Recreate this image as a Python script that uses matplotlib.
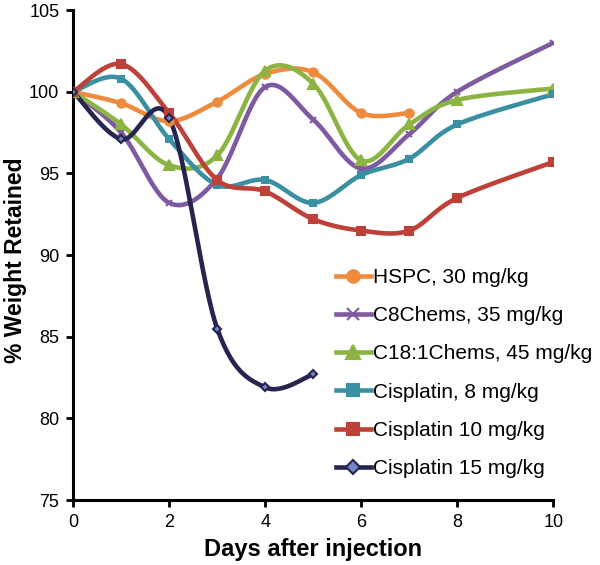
import numpy as np
import matplotlib
matplotlib.use("Agg")
import matplotlib.pyplot as plt

plt.rcParams['font.family'] = ['Liberation Sans', 'DejaVu Sans']

days = [0, 1, 2, 3, 4, 5, 6, 7, 8, 10]
hspc_days = [0, 1, 2, 3, 4, 5, 6, 7]
hspc = [100, 99.3, 98.2, 99.4, 101.1, 101.2, 98.7, 98.7]
c8 = [100, 97.5, 93.2, 94.7, 100.3, 98.3, 95.3, 97.4, 100.0, 103.0]
c18 = [100, 98.0, 95.5, 96.1, 101.3, 100.5, 95.8, 98.0, 99.5, 100.2]
cis8 = [100, 100.8, 97.1, 94.3, 94.6, 93.2, 94.9, 95.9, 98.0, 99.85]
cis10 = [100, 101.7, 98.7, 94.6, 93.9, 92.2, 91.5, 91.5, 93.5, 95.7]
cis15_days = [0, 1, 2, 3, 4, 5]
cis15 = [100, 97.1, 98.4, 85.5, 81.9, 82.7]

labels = ["HSPC, 30 mg/kg", "C8Chems, 35 mg/kg", "C18:1Chems, 45 mg/kg",
          "Cisplatin, 8 mg/kg", "Cisplatin 10 mg/kg", "Cisplatin 15 mg/kg"]
xticks = [0, 2, 4, 6, 8, 10]
yticks = [75, 80, 85, 90, 95, 100, 105]


def smooth(x, y, n=30):
    # Excel-style smoothing (Catmull-Rom Bezier through the points)
    x = np.asarray(x, float); y = np.asarray(y, float)
    P = np.column_stack([x, y])
    ext = np.vstack([P[0], P, P[-1]])
    out = []
    for i in range(len(P) - 1):
        p0, p1, p2, p3 = ext[i], ext[i + 1], ext[i + 2], ext[i + 3]
        c1 = p1 + (p2 - p0) / 6.0
        c2 = p2 - (p3 - p1) / 6.0
        t = np.linspace(0, 1, n)[:, None]
        seg = ((1 - t) ** 3) * p1 + 3 * ((1 - t) ** 2) * t * c1 + 3 * (1 - t) * t ** 2 * c2 + t ** 3 * p2
        out.append(seg if i == 0 else seg[1:])
    out = np.vstack(out)
    return out[:, 0], out[:, 1]


fig = plt.figure(figsize=(6.0, 5.65), dpi=100)
ax = fig.add_axes([0.122, 0.115, 0.80, 0.867])

series = [
    (hspc_days, hspc, '#EE8B3D', 'o', '#EE8B3D', 6),
    (days, c8, '#7E5BA0', 'x', '#7E5BA0', 5),
    (days, c18, '#8CB443', '^', '#8CB443', 6.5),
    (days, cis8, '#3B8FA2', 's', '#3B8FA2', 5),
    (days, cis10, '#BD4139', 's', '#BD4139', 5.5),
    (cis15_days, cis15, '#27244F', 'D', '#6F86C9', 4.5),
]

lw = 3.3
handles = []
for (xs, ys, col, mk, fc, ms), lab in zip(series, labels):
    sx, sy = smooth(xs, ys)
    ax.plot(sx, sy, color=col, lw=lw, solid_capstyle='round', zorder=2)
    ax.plot(xs, ys, ls='none', marker=mk, ms=ms, mfc=fc, mec=col, mew=1.5, zorder=3)
    h, = ax.plot([], [], color=col, lw=lw, marker=mk, ms=ms + 3, mfc=fc, mec=col, mew=1.5)
    handles.append(h)

ax.set_xlim(0, 10)
ax.set_ylim(75, 105)
ax.set_xticks(xticks)
ax.set_yticks(yticks)
for s in ['top', 'right']:
    ax.spines[s].set_visible(False)
for s in ['left', 'bottom']:
    ax.spines[s].set_linewidth(2.2)
    ax.spines[s].set_color('black')
ax.tick_params(direction='out', length=5, width=2, labelsize=13, pad=5)
ax.set_xlabel("Days after injection", fontsize=17, fontweight='bold', labelpad=5)
ax.set_ylabel("% Weight Retained", fontsize=16.5, fontweight='bold')
ax.yaxis.set_label_coords(-0.097, 0.49)

leg = ax.legend(handles, labels, loc='lower left', bbox_to_anchor=(0.548, 0.045),
                frameon=False, fontsize=15, handlelength=1.65, handletextpad=0.12,
                labelspacing=0.92, borderaxespad=0, borderpad=0)

fig.savefig("out.png", dpi=100)
